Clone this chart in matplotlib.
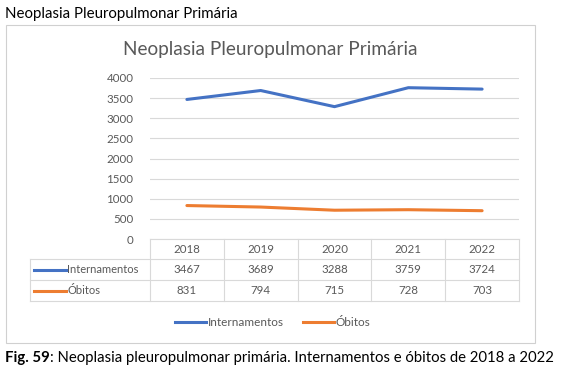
import matplotlib
matplotlib.use("Agg")
import matplotlib.pyplot as plt
from matplotlib.lines import Line2D
from matplotlib.patches import Rectangle

plt.rcParams['font.family'] = ['Lato', 'DejaVu Sans']

# data
years = ["2018", "2019", "2020", "2021", "2022"]
internamentos = [3467, 3689, 3288, 3759, 3724]
obitos = [831, 794, 715, 728, 703]
series_names = ["Internamentos", "Óbitos"]
yticks = [0, 500, 1000, 1500, 2000, 2500, 3000, 3500, 4000]

BLUE = "#4472C4"
ORANGE = "#ED7D31"
GRID = "#D9D9D9"
TXT = "#595959"

W, H = 564, 379
fig = plt.figure(figsize=(W / 100, H / 100), dpi=100)


def fx(x):
    return x / W


def fy(y):
    return 1 - y / H


# chart frame
fig.patches.append(Rectangle((fx(6), fy(343)), fx(535) - fx(6), fy(25) - fy(343),
                             transform=fig.transFigure, fill=False,
                             edgecolor="#D0D0D0", linewidth=0.8))

# plot area
left, right, top, bottom = 150, 519, 78, 239
ax = fig.add_axes([fx(left), fy(bottom), fx(right) - fx(left), fy(top) - fy(bottom)])
xs = list(range(len(years)))
ax.plot(xs, internamentos, color=BLUE, linewidth=2.2, solid_capstyle="round")
ax.plot(xs, obitos, color=ORANGE, linewidth=2.2, solid_capstyle="round")
ax.set_xlim(-0.5, len(years) - 0.5)
ax.set_ylim(0, 4000)
ax.set_yticks(yticks)
ax.set_yticklabels([str(t) for t in yticks], fontsize=8.3, color=TXT)
ax.set_xticks([])
ax.grid(axis="y", color=GRID, linewidth=0.8)
ax.set_axisbelow(True)
ax.tick_params(axis="y", length=0, pad=12)
for s in ax.spines.values():
    s.set_visible(False)

# title
fig.text(fx(270), fy(50), "Neoplasia Pleuropulmonar Primária", ha="center", va="center",
         fontsize=13.7, color=TXT)

# data table under the plot
row_y = [239, 259, 280, 301]
col_w = (right - left) / len(years)
tbl_left = 30


def hline(x0, x1, y):
    fig.add_artist(Line2D([fx(x0), fx(x1)], [fy(y), fy(y)], transform=fig.transFigure,
                          color=GRID, linewidth=0.8))


def vline(x, y0, y1):
    fig.add_artist(Line2D([fx(x), fx(x)], [fy(y0), fy(y1)], transform=fig.transFigure,
                          color=GRID, linewidth=0.8))


hline(left, right, row_y[0])
for y in row_y[1:]:
    hline(tbl_left, right, y)
vline(tbl_left, row_y[1], row_y[3])
for i in range(len(years) + 1):
    vline(left + i * col_w, row_y[0], row_y[3])

for i, yr in enumerate(years):
    cx = left + (i + 0.5) * col_w
    fig.text(fx(cx), fy((row_y[0] + row_y[1]) / 2), yr, ha="center", va="center",
             fontsize=8.3, color=TXT)
    fig.text(fx(cx), fy((row_y[1] + row_y[2]) / 2), str(internamentos[i]), ha="center",
             va="center", fontsize=8.3, color=TXT)
    fig.text(fx(cx), fy((row_y[2] + row_y[3]) / 2), str(obitos[i]), ha="center",
             va="center", fontsize=8.3, color=TXT)

for r, (name, col) in enumerate(zip(series_names, [BLUE, ORANGE])):
    yc = (row_y[r + 1] + row_y[r + 2]) / 2
    fig.add_artist(Line2D([fx(34), fx(66)], [fy(yc), fy(yc)], transform=fig.transFigure,
                          color=col, linewidth=2.2))
    fig.text(fx(67), fy(yc), name, ha="left", va="center", fontsize=8, color=TXT)

# legend
leg_y = 322
for x0, name, col in [(175, series_names[0], BLUE), (303, series_names[1], ORANGE)]:
    fig.add_artist(Line2D([fx(x0), fx(x0 + 31)], [fy(leg_y), fy(leg_y)],
                          transform=fig.transFigure, color=col, linewidth=2.2))
    fig.text(fx(x0 + 33), fy(leg_y), name, ha="left", va="center", fontsize=8.5, color=TXT)

# captions outside the chart
fig.text(fx(5), fy(14), "Neoplasia Pleuropulmonar Primária", ha="left", va="center",
         fontsize=10.8, color="black")
t = fig.text(fx(5), fy(358), "Fig. 59", ha="left", va="center", fontsize=10.7,
             fontweight="bold", color="black")
fig.canvas.draw()
bb = t.get_window_extent()
fig.text(bb.x1 / W, fy(358), ": Neoplasia pleuropulmonar primária. Internamentos e óbitos de 2018 a 2022",
         ha="left", va="center", fontsize=10.7, color="black")

fig.savefig("out.png", dpi=100)
